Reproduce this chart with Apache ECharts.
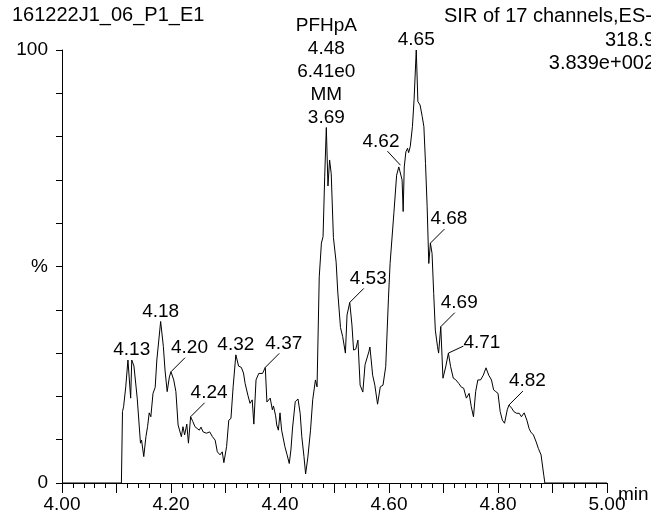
<!DOCTYPE html>
<html><head><meta charset="utf-8">
<script src="https://cdn.jsdelivr.net/npm/echarts@6/dist/echarts.min.js"></script>
<style>html,body{margin:0;padding:0;background:#fff}#c{width:651px;height:520px}</style>
</head><body><div id="c"></div>
<script>
// ---------- texts ----------
const sampleName = "161222J1_06_P1_E1";
const traceTitle = "SIR of 17 channels,ES-";
const traceMass = "318.9";
const traceIntensity = "3.839e+002";
const compoundName = "PFHpA";
const compoundArea = "6.41e0";
const compoundIntegration = "MM";
const compoundSN = "3.69";
const xAxisName = "min";

// ---------- tick labels ----------
const xTickLabels = ["4.00", "4.20", "4.40", "4.60", "4.80", "5.00"];
const yTickValues = [0, 50, 100];
const yTickLabels = ["0", "%", "100"];

// ---------- chromatogram trace (retention time, % intensity) ----------
const times = [
  4.000, 4.109, 4.111, 4.113, 4.117, 4.121, 4.126, 4.128, 4.132, 4.135,
  4.138, 4.140, 4.144, 4.146, 4.150, 4.154, 4.157, 4.160, 4.163, 4.167,
  4.171, 4.174, 4.181, 4.186, 4.189, 4.193, 4.197, 4.200, 4.205, 4.209,
  4.213, 4.216, 4.219, 4.222, 4.225, 4.229, 4.232, 4.236, 4.240, 4.244,
  4.248, 4.252, 4.255, 4.259, 4.265, 4.268, 4.271, 4.276, 4.281, 4.285,
  4.290, 4.294, 4.297, 4.302, 4.306, 4.310, 4.314, 4.319, 4.324, 4.329,
  4.333, 4.336, 4.341, 4.345, 4.349, 4.352, 4.356, 4.361, 4.368, 4.373,
  4.376, 4.379, 4.382, 4.386, 4.388, 4.392, 4.394, 4.397, 4.400, 4.403,
  4.406, 4.409, 4.413, 4.417, 4.420, 4.423, 4.428, 4.433, 4.437, 4.440,
  4.444, 4.447, 4.451, 4.456, 4.460, 4.465, 4.468, 4.472, 4.476, 4.479,
  4.482, 4.485, 4.488, 4.491, 4.494, 4.498, 4.503, 4.506, 4.511, 4.515,
  4.520, 4.523, 4.528, 4.532, 4.535, 4.539, 4.543, 4.547, 4.552, 4.556,
  4.563, 4.565, 4.570, 4.574, 4.579, 4.584, 4.589, 4.594, 4.599, 4.602,
  4.605, 4.609, 4.614, 4.618, 4.621, 4.624, 4.626, 4.628, 4.631, 4.634,
  4.636, 4.639, 4.643, 4.646, 4.650, 4.653, 4.657, 4.661, 4.664, 4.667,
  4.670, 4.673, 4.676, 4.679, 4.682, 4.685, 4.689, 4.691, 4.695, 4.699,
  4.704, 4.709, 4.713, 4.718, 4.722, 4.728, 4.733, 4.737, 4.742, 4.747,
  4.751, 4.755, 4.759, 4.763, 4.768, 4.773, 4.778, 4.783, 4.788, 4.792,
  4.796, 4.800, 4.804, 4.808, 4.812, 4.817, 4.820, 4.825, 4.829, 4.834,
  4.839, 4.843, 4.848, 4.853, 4.857, 4.860, 4.865, 4.870, 4.874, 4.879,
  4.884, 4.886, 5.000
];
const values = [
  0, 0, 16.5, 17.6, 22.2, 28.4, 19.6, 28.4, 27.0, 26.7,
  19.6, 19.6, 9.2, 9.9, 6.1, 10.7, 13.0, 16.2, 15.3, 20.7,
  22.1, 28.4, 37.3, 31.5, 26.1, 21.1, 24.5, 25.7, 23.8, 21.1,
  13.4, 13.4, 10.7, 13.0, 11.1, 13.6, 9.2, 15.3, 14.2, 13.0,
  12.6, 12.2, 12.9, 11.8, 11.5, 11.1, 11.8, 10.7, 9.9, 7.2,
  6.5, 7.2, 4.7, 8.4, 14.5, 14.9, 22.2, 29.6, 27.0, 26.7,
  25.4, 23.0, 20.3, 18.4, 19.2, 13.6, 23.8, 25.3, 25.3, 26.7,
  18.7, 18.4, 19.6, 16.9, 17.8, 15.5, 13.4, 12.2, 16.2, 12.2,
  11.8, 8.4, 6.5, 4.5, 7.6, 12.7, 18.8, 19.4, 16.1, 10.7,
  6.1, 2.1, 5.8, 12.2, 19.2, 23.8, 22.2, 47.6, 55.4, 56.9,
  70.7, 82.1, 68.6, 74.6, 71.4, 56.7, 51.0, 44.1, 35.9, 33.8,
  30.0, 38.8, 41.7, 36.5, 30.7, 30.9, 33.0, 22.6, 21.0, 27.3,
  30.3, 31.4, 24.9, 22.6, 18.2, 22.2, 22.6, 26.9, 42.7, 50.7,
  50.3, 62.4, 71.1, 73.0, 73.4, 70.0, 62.7, 73.0, 76.5, 77.3,
  76.3, 77.7, 82.3, 88.5, 100, 88.1, 87.3, 84.6, 82.3, 73.8,
  63.8, 50.7, 55.4, 53.0, 43.8, 35.3, 31.5, 30.0, 36.1, 24.2,
  26.8, 30.0, 26.9, 24.2, 23.9, 23.0, 22.1, 21.9, 19.6, 20.7,
  17.6, 15.3, 21.1, 23.8, 23.8, 24.9, 26.6, 24.9, 23.8, 21.5,
  21.1, 20.7, 16.5, 14.5, 13.8, 16.9, 18.0, 17.3, 16.5, 16.1,
  16.1, 15.3, 16.2, 14.5, 12.6, 11.8, 11.1, 9.5, 8.0, 6.5,
  1.8, 0, 0
];

// ---------- annotated peaks ----------
const peakTimes  = [4.128, 4.181, 4.200, 4.236, 4.319, 4.373, 4.485, 4.528, 4.621, 4.650, 4.676, 4.695, 4.709, 4.820];
const peakValues = [28.4, 37.3, 25.7, 15.3, 29.6, 26.7, 82.1, 41.7, 73.4, 100, 55.4, 36.1, 30.0, 18.0];
const peakLabels = ["4.13", "4.18", "4.20", "4.24", "4.32", "4.37", "4.48", "4.53", "4.62", "4.65", "4.68", "4.69", "4.71", "4.82"];

// ---------- styling (not data) ----------
const FONT_FAMILY = "'Liberation Sans', Arial, Helvetica, sans-serif";
const FONT_SIZE = 19;
const TITLE_SIZE = 20;
const INK = '#000';
// label placement per annotated peak: above / up-right leader / up-left leader / right leader / compound stack
const placement = ['above','above','ur','ur','above','ur','stack','ur','ul','above','ur','ur','r','ur'];

function txt(text, x, y, align) {
  return { type: 'text', style: { text: text, x: x, y: y, align: align || 'center', verticalAlign: 'middle',
    fill: INK, fontSize: FONT_SIZE, fontFamily: FONT_FAMILY } };
}
function seg(x1, y1, x2, y2) {
  return { type: 'line', shape: { x1: x1, y1: y1, x2: x2, y2: y2 }, style: { stroke: INK, lineWidth: 1 } };
}

function renderPeak(params, api) {
  const i = params.dataIndex;
  const p = api.coord([api.value(0), api.value(1)]);
  const x = p[0], y = p[1];
  const lab = peakLabels[i];
  const mode = placement[i];
  const children = [];
  if (mode === 'above') {
    children.push(txt(lab, x, y - 10));
  } else if (mode === 'ur') {
    children.push(seg(x, y, x + 14, y - 14));
    children.push(txt(lab, x, y - 24, 'left'));
  } else if (mode === 'ul') {
    children.push(seg(x, y, x - 13, y - 14));
    children.push(txt(lab, x - 1, y - 23, 'right'));
  } else if (mode === 'r') {
    children.push(seg(x, y, x + 15, y - 7));
    children.push(txt(lab, x + 15, y - 10, 'left'));
  } else if (mode === 'stack') {
    const lines = [compoundName, lab, compoundArea, compoundIntegration, compoundSN];
    for (let k = 0; k < lines.length; k++) {
      children.push(txt(lines[k], x, y - 10 - 23 * (lines.length - 1 - k)));
    }
  }
  return { type: 'group', children: children };
}

const chart = echarts.init(document.getElementById('c'), null, { renderer: 'canvas' });
const labelStyle = { color: INK, fontSize: FONT_SIZE, fontFamily: FONT_FAMILY };
function headText(text, x, y, align) {
  return { type: 'text', x: x, y: y, style: { text: text, fill: INK, fontSize: TITLE_SIZE, fontFamily: FONT_FAMILY, align: align, verticalAlign: 'middle' } };
}

chart.setOption({
  animation: false,
  backgroundColor: '#fff',
  grid: { left: 62, right: 44, top: 50, bottom: 37, containLabel: false, outerBoundsMode: 'none' },
  xAxis: {
    type: 'value', min: 4, max: 5, interval: 0.1,
    axisLine: { show: true, onZero: false, lineStyle: { color: INK, width: 1 } },
    axisTick: { show: true, inside: false, length: 10, lineStyle: { color: INK, width: 1 } },
    minorTick: { show: true, splitNumber: 5, length: 5, lineStyle: { color: INK, width: 1 } },
    splitLine: { show: false }, minorSplitLine: { show: false },
    axisLabel: Object.assign({ margin: 12, showMinLabel: true, showMaxLabel: true, hideOverlap: false,
      formatter: function (v) { const s = v.toFixed(2); return xTickLabels.indexOf(s) >= 0 ? s : ''; } }, labelStyle),
    name: xAxisName, nameLocation: 'end', nameGap: 11, nameMoveOverlap: false,
    nameTextStyle: Object.assign({ verticalAlign: 'top', align: 'left', padding: [2, 0, 0, 0] }, labelStyle)
  },
  yAxis: {
    type: 'value', min: 0, max: 100, interval: 10,
    axisLine: { show: true, onZero: false, lineStyle: { color: INK, width: 1 } },
    axisTick: { show: true, inside: false, length: 6, lineStyle: { color: INK, width: 1 } },
    splitLine: { show: false },
    axisLabel: Object.assign({ margin: 14, showMinLabel: true, showMaxLabel: true, hideOverlap: false,
      formatter: function (v) { const k = yTickValues.indexOf(Math.round(v)); return k >= 0 ? yTickLabels[k] : ''; } }, labelStyle)
  },
  graphic: [
    headText(sampleName, 12, 15, 'left'),
    headText(traceTitle, 444, 16, 'left'),
    headText(traceMass, 655, 40, 'right'),
    headText(traceIntensity, 655, 63, 'right')
  ],
  series: [
    {
      type: 'line',
      data: times.map(function (t, i) { return [t, values[i]]; }),
      showSymbol: false, symbol: 'none', smooth: false,
      lineStyle: { color: INK, width: 1 },
      clip: false, silent: true
    },
    {
      type: 'custom',
      coordinateSystem: 'cartesian2d',
      data: peakTimes.map(function (t, i) { return [t, peakValues[i]]; }),
      encode: { x: 0, y: 1 },
      renderItem: renderPeak,
      clip: false, silent: true, z: 5
    }
  ]
});
</script>
</body></html>
